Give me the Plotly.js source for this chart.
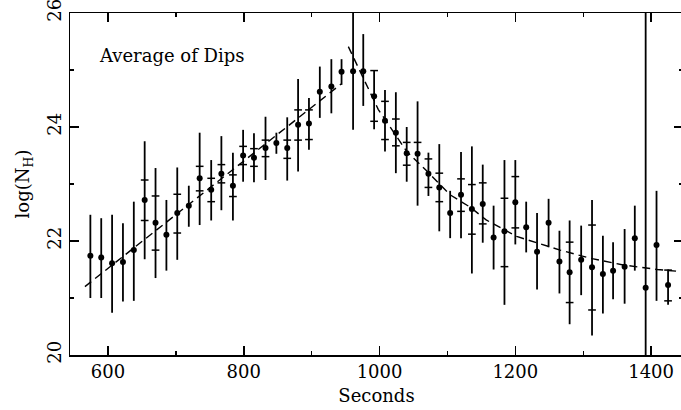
<!DOCTYPE html>
<html>
<head>
<meta charset="utf-8">
<script src="https://cdn.plot.ly/plotly-3.0.1.min.js"></script>
<style>
html,body{margin:0;padding:0;background:#fff;overflow:hidden;}
#chart{width:683px;height:410px;}
</style>
</head>
<body>
<div id="chart"></div>
<script>
// Time (s)
var secs = [574,590,606,622,638,654,670,686,702,719,735,752,767,784,799,815,832,848,864,880,896,912,929,944,961,976,992,1008,1024,1040,1056,1072,1088,1104,1120,1136,1152,1168,1184,1200,1216,1232,1249,1265,1280,1297,1313,1329,1344,1361,1376,1392,1408,1425];
// log(N_H) values
var logNH = [21.74,21.71,21.61,21.63,21.84,22.72,22.32,22.11,22.49,22.62,23.10,22.90,23.18,22.97,23.50,23.46,23.63,23.72,23.63,24.04,24.06,24.62,24.71,24.97,24.98,24.98,24.54,24.11,23.90,23.54,23.53,23.18,22.94,22.49,22.81,22.56,22.65,22.06,22.17,22.68,22.24,21.81,22.32,21.64,21.45,21.67,21.54,21.42,21.48,21.55,22.05,21.18,21.93,21.23];
// outer error bar bounds
var errHi = [22.46,22.40,22.46,22.31,22.69,23.75,23.28,22.72,23.29,22.97,23.90,23.42,23.84,23.55,23.95,23.89,24.18,23.90,24.17,24.84,24.51,25.06,25.19,25.19,26.3,25.63,25.00,24.65,24.61,24.00,24.45,23.55,23.70,22.88,23.56,23.66,23.34,22.62,23.42,23.42,22.69,22.49,22.74,22.18,22.36,22.27,22.72,22.09,21.98,22.21,22.62,26.5,22.88,21.50];
var errLo = [21.00,21.00,20.74,20.94,20.95,21.68,21.35,21.48,21.67,22.25,22.28,22.36,22.54,22.36,23.04,23.03,23.07,23.53,23.06,23.22,23.60,24.16,24.24,24.74,23.95,24.37,23.96,23.57,23.19,23.04,22.62,22.79,22.17,22.05,22.05,21.43,21.97,21.50,20.88,21.94,21.80,21.15,21.89,21.08,20.54,21.05,20.34,20.73,20.98,20.90,21.48,19.5,20.95,20.88];
// inner cross ticks
var tickHi = [null,null,null,null,null,23.07,22.79,null,22.82,null,23.31,23.10,23.34,23.16,23.66,23.62,23.77,null,23.77,24.30,24.30,null,null,null,null,null,24.99,24.45,24.14,23.73,23.73,23.44,23.19,null,23.09,22.99,23.02,null,22.75,23.13,null,null,null,null,21.98,null,22.28,null,null,null,null,null,null,21.49];
var tickLo = [null,null,null,null,null,22.36,21.84,null,22.14,null,22.88,22.69,23.02,22.78,23.34,23.31,23.48,null,23.45,23.77,23.78,null,null,null,null,null,24.10,23.78,23.67,23.33,null,22.94,22.69,null,22.52,22.12,22.30,null,21.55,22.23,null,null,null,null,20.92,null,20.79,null,null,null,null,null,null,20.95];
// dashed model curve
var fitX = [566,944,null,954,971,998,1040,1072,1104,1134,1157,1202,1266,1313,1359,1409,1447];
var fitY = [21.20,24.76,null,25.41,24.98,24.31,23.57,23.20,22.81,22.59,22.37,22.08,21.84,21.69,21.58,21.50,21.46];

var upArr = logNH.map(function(v,i){return errHi[i]-v;});
var dnArr = logNH.map(function(v,i){return v-errLo[i];});

var traces = [
  {x: fitX, y: fitY, mode:'lines', line:{color:'#000', width:1.4, dash:'8px,5px'}, connectgaps:false, hoverinfo:'skip'},
  {x: secs, y: logNH, mode:'markers', marker:{color:'#000', size:6, symbol:'circle'},
   error_y:{type:'data', symmetric:false, array: upArr, arrayminus: dnArr, color:'#000', thickness:1.8, width:0}},
  {x: secs, y: tickHi, mode:'markers', marker:{symbol:'line-ew', size:5.5, line:{color:'#000', width:1.5}}},
  {x: secs, y: tickLo, mode:'markers', marker:{symbol:'line-ew', size:5.5, line:{color:'#000', width:1.5}}}
];

var fnt = {family:'DejaVu Serif', size:18, color:'#000'};
var layout = {
  width:683, height:410,
  margin:{l:70, r:0, t:13, b:55},
  paper_bgcolor:'#fff', plot_bgcolor:'#fff',
  showlegend:false,
  font: fnt,
  xaxis:{
    range:[544,1447], tickvals:[600,800,1000,1200,1400], ticktext:['600','800','1000','1200','1400'],
    ticks:'inside', ticklen:9, tickwidth:1.5, tickcolor:'#000',
    mirror:'ticks', showline:true, linecolor:'#000', linewidth:1.5,
    showgrid:false, zeroline:false, tickfont:fnt, ticklabeloverflow:'allow',
    minor:{tick0:0, dtick:100, ticks:'inside', ticklen:4, tickwidth:1.2, tickcolor:'#000', showgrid:false},
    title:{text:'Seconds', font:fnt, standoff:8}
  },
  yaxis:{
    range:[20,26], tickvals:[20,22,24,26], ticktext:['20','22','24','26'], tickangle:-90,
    ticks:'inside', ticklen:9, tickwidth:1.5, tickcolor:'#000',
    mirror:'ticks', showline:true, linecolor:'#000', linewidth:1.5,
    showgrid:false, zeroline:false, tickfont:fnt, ticklabeloverflow:'allow',
    minor:{tick0:0, dtick:1, ticks:'inside', ticklen:4, tickwidth:1.2, tickcolor:'#000', showgrid:false},
    title:{text:'log(N<sub>H</sub>)', font:fnt, standoff:10}
  },
  annotations:[{text:'Average of Dips', xref:'paper', yref:'paper', x:0.044, y:0.877, xanchor:'left', yanchor:'middle', showarrow:false, font:{family:'DejaVu Serif', size:18, color:'#000'}}]
};
Plotly.newPlot('chart', traces, layout, {staticPlot:true, displayModeBar:false});
</script>
</body>
</html>
